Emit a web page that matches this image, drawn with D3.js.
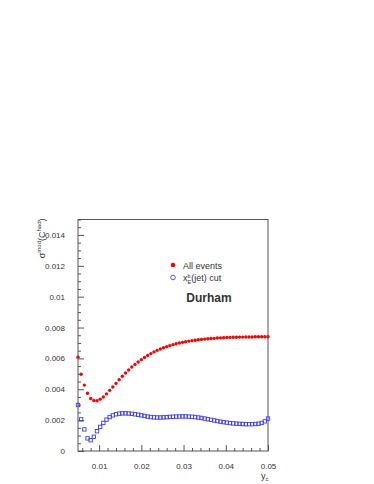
<!DOCTYPE html>
<html lang="en">
<head>
  <meta charset="UTF-8">
  <title>Durham sigma mod</title>
  <script src="https://d3js.org/d3.v7.min.js"></script>
  <style>
    body { margin: 0; background: #fff; font-family: "Liberation Sans", Arial, sans-serif; }
    svg text { fill: #333; }
  </style>
</head>
<body>
  <script>
    // y_c grid, step 0.00075 from 0.005 to 0.05
    const ycValues = d3.range(61).map(i => +(0.005 + 0.00075 * i).toFixed(5));

    // All events (x 1e-3)
    const allEvents = [
      6.08, 4.97, 4.27, 3.74, 3.40, 3.27, 3.26, 3.36, 3.50, 3.70,
      3.93, 4.15, 4.38, 4.62, 4.84, 5.05, 5.25, 5.44, 5.61, 5.77,
      5.92, 6.06, 6.19, 6.31, 6.42, 6.52, 6.61, 6.69, 6.76, 6.83,
      6.89, 6.95, 7.00, 7.04, 7.08, 7.12, 7.15, 7.18, 7.21, 7.23,
      7.25, 7.27, 7.29, 7.30, 7.32, 7.33, 7.34, 7.35, 7.36, 7.37,
      7.37, 7.38, 7.38, 7.39, 7.39, 7.39, 7.40, 7.40, 7.40, 7.40, 7.40
    ];

    // x_E^b(jet) cut (x 1e-3)
    const jetCut = [
      2.98, 2.05, 1.40, 0.82, 0.70, 0.92, 1.28, 1.56, 1.82, 2.03,
      2.20, 2.31, 2.38, 2.42, 2.44, 2.44, 2.43, 2.41, 2.38, 2.35,
      2.31, 2.27, 2.23, 2.20, 2.18, 2.17, 2.17, 2.18, 2.19, 2.21,
      2.22, 2.23, 2.24, 2.24, 2.24, 2.23, 2.22, 2.20, 2.17, 2.14,
      2.10, 2.06, 2.02, 1.98, 1.94, 1.90, 1.87, 1.84, 1.81, 1.79,
      1.77, 1.76, 1.75, 1.74, 1.74, 1.74, 1.75, 1.77, 1.82, 1.92, 2.10
    ];

    const xTicks = [0.01, 0.02, 0.03, 0.04, 0.05];
    const yTicks = [0, 0.002, 0.004, 0.006, 0.008, 0.01, 0.012, 0.014];

    const W = 374, H = 484;
    const frame = { left: 78, right: 268, top: 219.5, bottom: 451 };

    const svg = d3.select("body").append("svg")
      .attr("width", W).attr("height", H);

    const x = d3.scaleLinear().domain([0.005, 0.05]).range([frame.left, frame.right]);
    const y = d3.scaleLinear().domain([0, 0.015]).range([frame.bottom, frame.top]);

    // frame
    svg.append("rect")
      .attr("x", frame.left).attr("y", frame.top)
      .attr("width", frame.right - frame.left)
      .attr("height", frame.bottom - frame.top)
      .attr("fill", "none").attr("stroke", "#555").attr("stroke-width", 1);

    // x axis (ticks inward)
    const xMinor = d3.range(0.006, 0.0501, 0.002).filter(v => !xTicks.some(t => Math.abs(t - v) < 1e-6));
    const xAxis = svg.append("g").attr("transform", `translate(0,${frame.bottom})`);
    xAxis.call(d3.axisBottom(x).tickValues(xMinor).tickSize(-3).tickFormat(""));
    xAxis.call(g => g.select(".domain").remove());
    const xMaj = svg.append("g").attr("transform", `translate(0,${frame.bottom})`);
    xMaj.call(d3.axisBottom(x).tickValues(xTicks).tickSize(-6).tickPadding(12).tickFormat(d3.format("")));
    xMaj.call(g => g.select(".domain").remove());

    // y axis (ticks inward)
    const yMinor = d3.range(0, 0.01501, 0.0005).filter(v => !yTicks.some(t => Math.abs(t - v) < 1e-7));
    const yAxis = svg.append("g").attr("transform", `translate(${frame.left},0)`);
    yAxis.call(d3.axisLeft(y).tickValues(yMinor).tickSize(-3).tickFormat(""));
    yAxis.call(g => g.select(".domain").remove());
    const yMaj = svg.append("g").attr("transform", `translate(${frame.left},0)`);
    yMaj.call(d3.axisLeft(y).tickValues(yTicks).tickSize(-6).tickPadding(13).tickFormat(d3.format("")));
    yMaj.call(g => g.select(".domain").remove());

    svg.selectAll(".tick line").attr("stroke", "#555");
    svg.selectAll(".tick text")
      .style("font-family", "'Liberation Sans', Arial, sans-serif")
      .style("font-size", "8px").attr("fill", "#333");

    // axis titles
    const xt = svg.append("text").attr("x", 261).attr("y", 479)
      .style("font-size", "9px");
    xt.append("tspan").text("y");
    xt.append("tspan").attr("dy", 2).style("font-size", "6px").text("c");

    const yt = svg.append("text")
      .attr("transform", `translate(45,${frame.top - 1}) rotate(-90)`)
      .attr("text-anchor", "end")
      .style("font-size", "9px");
    yt.append("tspan").text("σ");
    yt.append("tspan").attr("dy", -4).style("font-size", "6px").text("mod");
    yt.append("tspan").attr("dy", 4).text("(C");
    yt.append("tspan").attr("dy", -4).style("font-size", "6px").text("had");
    yt.append("tspan").attr("dy", 4).text(")");

    // data: all events, red filled circles
    svg.append("g").selectAll("circle")
      .data(ycValues.map((v, i) => [v, allEvents[i] * 1e-3]))
      .join("circle")
      .attr("cx", d => x(d[0])).attr("cy", d => y(d[1]))
      .attr("r", 1.7).attr("fill", "#ff0000");

    // data: jet cut, blue open squares
    const s = 3.4;
    svg.append("g").selectAll("rect")
      .data(ycValues.map((v, i) => [v, jetCut[i] * 1e-3]))
      .join("rect")
      .attr("x", d => x(d[0]) - s / 2).attr("y", d => y(d[1]) - s / 2)
      .attr("width", s).attr("height", s)
      .attr("fill", "none").attr("stroke", "#3a3aff").attr("stroke-width", 0.9);

    // legend
    svg.append("circle").attr("cx", 173).attr("cy", 265).attr("r", 2.3).attr("fill", "#ff0000");
    svg.append("text").attr("x", 183).attr("y", 268.5).style("font-size", "9px").text("All events");
    svg.append("circle").attr("cx", 173).attr("cy", 277.5).attr("r", 2.3)
      .attr("fill", "none").attr("stroke", "#3a3aff").attr("stroke-width", 0.9);
    const lt = svg.append("text").attr("x", 183).attr("y", 281).style("font-size", "9px");
    lt.append("tspan").text("x");
    lt.append("tspan").attr("dy", -3.5).attr("dx", 0).style("font-size", "5.5px").text("b");
    lt.append("tspan").attr("dy", 6.5).attr("dx", -3).style("font-size", "5.5px").text("E");
    lt.append("tspan").attr("dy", -3).text("(jet) cut");

    svg.append("text").attr("x", 209).attr("y", 302)
      .attr("text-anchor", "middle")
      .style("font-size", "12px").style("font-weight", "bold")
      .attr("fill", "#111")
      .text("Durham");
  </script>
</body>
</html>
